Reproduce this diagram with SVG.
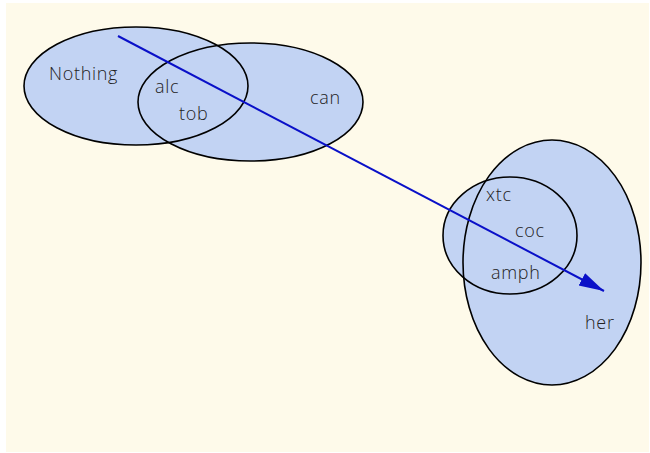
<svg xmlns="http://www.w3.org/2000/svg" width="650" height="453" viewBox="0 0 650 453">
<style>
.set{fill:#c2d3f3;stroke:none}
.edge{fill:none;stroke:#000;stroke-width:1.6}
.lbl{font-family:"Open Sans",Lato,"DejaVu Sans",sans-serif;font-size:18px;font-weight:300;letter-spacing:0.7px;fill:#222;}
.con{stroke:#0a10c8;stroke-width:2;fill:none}
</style>
<defs>
<marker id="ah" markerUnits="userSpaceOnUse" markerWidth="26" markerHeight="16" refX="25" refY="7" orient="auto">
<path d="M0,0 L25,7 L0,14 Z" fill="#0a10c8"/>
</marker>
</defs>
<rect x="6" y="3" width="643" height="449" fill="#fefaea"/>
<g id="fills">
<ellipse class="set" cx="136" cy="86" rx="112" ry="59"/>
<ellipse class="set" cx="250.5" cy="102" rx="112.5" ry="59"/>
<ellipse class="set" cx="552" cy="262.5" rx="89" ry="122.5"/>
<ellipse class="set" cx="510" cy="235.5" rx="67" ry="58.5"/>
</g>
<g id="node-nothing"><ellipse class="edge" cx="136" cy="86" rx="112" ry="59"/><text class="lbl" x="49" y="80">Nothing</text></g>
<g id="node-can"><ellipse class="edge" cx="250.5" cy="102" rx="112.5" ry="59"/><text class="lbl" x="310" y="104">can</text></g>
<g id="node-alc"><text class="lbl" x="155" y="93">alc</text></g>
<g id="node-tob"><text class="lbl" x="179" y="120">tob</text></g>
<g id="node-her"><ellipse class="edge" cx="552" cy="262.5" rx="89" ry="122.5"/><text class="lbl" x="585" y="329">her</text></g>
<g id="node-coc"><ellipse class="edge" cx="510" cy="235.5" rx="67" ry="58.5"/><text class="lbl" x="515" y="237">coc</text></g>
<g id="node-xtc"><text class="lbl" x="486" y="201">xtc</text></g>
<g id="node-amph"><text class="lbl" x="491" y="279">amph</text></g>
<g id="connectors">
<line class="con" x1="118" y1="36" x2="604" y2="291" marker-end="url(#ah)"/>
</g>
</svg>
